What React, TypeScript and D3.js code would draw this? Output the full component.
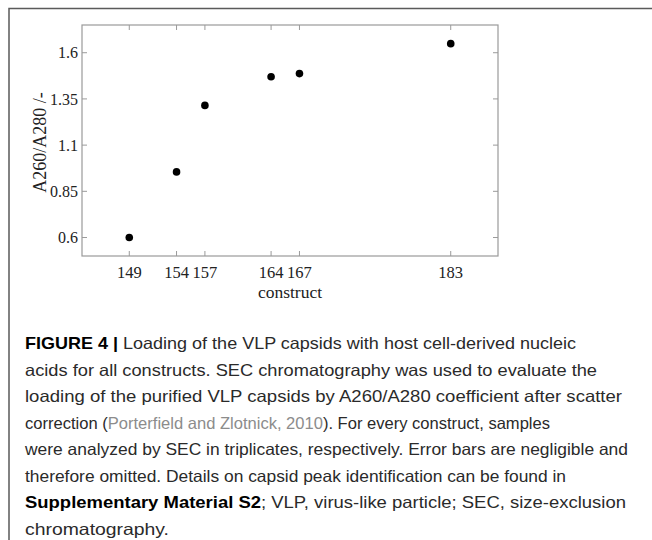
import React, { useEffect, useRef } from 'react';
import * as d3 from 'd3';

// construct number vs A260/A280 ratio
const constructs = [149, 154, 157, 164, 167, 183];
const ratios = [0.6, 0.955, 1.315, 1.47, 1.487, 1.649];
const yTicks = [0.6, 0.85, 1.1, 1.35, 1.6];

const captionLines = [
  [{ t: 'FIGURE 4 | ', b: true }, { t: 'Loading of the VLP capsids with host cell-derived nucleic' }],
  [{ t: 'acids for all constructs. SEC chromatography was used to evaluate the' }],
  [{ t: 'loading of the purified VLP capsids by A260/A280 coefficient after scatter' }],
  [{ t: 'correction (' }, { t: 'Porterfield and Zlotnick, 2010', g: true }, { t: '). For every construct, samples' }],
  [{ t: 'were analyzed by SEC in triplicates, respectively. Error bars are negligible and' }],
  [{ t: 'therefore omitted. Details on capsid peak identification can be found in' }],
  [{ t: 'Supplementary Material S2', b: true }, { t: '; VLP, virus-like particle; SEC, size-exclusion' }],
  [{ t: 'chromatography.' }],
];
const captionEnds = [576, 597, 622, 550, 628, 566, 626, 169];

export default function App() {
  const ref = useRef<SVGSVGElement>(null);

  useEffect(() => {
    if (!ref.current) return;
    const W = 652, H = 540;
    const margin = { left: 82, right: 154, top: 25, bottom: 284 };
    const svg = d3.select(ref.current);
    svg.selectAll('*').remove();

    // outer frame
    svg.append('path')
      .attr('d', `M9,${H} V8.5 H${W}`)
      .attr('fill', 'none')
      .attr('stroke', '#5a5a5a')
      .attr('stroke-width', 1.5);

    const x = d3.scaleLinear().domain([144, 188]).range([margin.left, W - margin.right]);
    const y = d3.scaleLinear().domain([0.5, 1.75]).range([H - margin.bottom, margin.top]);
    const axisColor = '#9a9a9a';
    const serif = '"Liberation Serif", "Times New Roman", serif';
    const tick = 5;

    const g = svg.append('g');

    // ticks (inward, mirrored on all sides)
    constructs.forEach(c => {
      g.append('line').attr('x1', x(c)).attr('x2', x(c))
        .attr('y1', y.range()[0]).attr('y2', y.range()[0] - tick)
        .attr('stroke', axisColor);
      g.append('line').attr('x1', x(c)).attr('x2', x(c))
        .attr('y1', y.range()[1]).attr('y2', y.range()[1] + tick)
        .attr('stroke', axisColor);
      g.append('text')
        .attr('x', x(c)).attr('y', y.range()[0] + 22)
        .attr('text-anchor', 'middle')
        .attr('font-family', serif).attr('font-size', 16.5)
        .attr('fill', '#222')
        .text(c);
    });
    yTicks.forEach(v => {
      g.append('line').attr('x1', x.range()[0]).attr('x2', x.range()[0] + tick)
        .attr('y1', y(v)).attr('y2', y(v)).attr('stroke', axisColor);
      g.append('line').attr('x1', x.range()[1]).attr('x2', x.range()[1] - tick)
        .attr('y1', y(v)).attr('y2', y(v)).attr('stroke', axisColor);
      g.append('text')
        .attr('x', x.range()[0] - 4).attr('y', y(v)).attr('dy', '0.35em')
        .attr('text-anchor', 'end')
        .attr('font-family', serif).attr('font-size', 16)
        .attr('fill', '#222')
        .text(String(v));
    });

    g.append('rect')
      .attr('x', x.range()[0]).attr('y', y.range()[1])
      .attr('width', x.range()[1] - x.range()[0])
      .attr('height', y.range()[0] - y.range()[1])
      .attr('fill', 'none').attr('stroke', axisColor).attr('stroke-width', 1.2);

    g.selectAll('circle')
      .data(constructs.map((c, i) => ({ c, r: ratios[i] })))
      .enter()
      .append('circle')
      .attr('cx', d => x(d.c))
      .attr('cy', d => y(d.r))
      .attr('r', 3.8)
      .attr('fill', '#000');

    g.append('text')
      .attr('x', (x.range()[0] + x.range()[1]) / 2).attr('y', y.range()[0] + 42)
      .attr('text-anchor', 'middle')
      .attr('font-family', serif).attr('font-size', 17.5)
      .attr('fill', '#222')
      .text('construct');

    // y label: baseline on the right, glyphs extend left
    g.append('text')
      .attr('transform', `translate(${46},${(y.range()[0] + y.range()[1]) / 2 + 2}) rotate(-90)`)
      .attr('text-anchor', 'middle')
      .attr('font-family', serif).attr('font-size', 18)
      .attr('fill', '#222')
      .text('A260/A280 /-');

    // caption
    const cap = svg.append('g')
      .attr('font-family', '"Liberation Sans", Arial, sans-serif')
      .attr('font-size', 16.5);
    captionLines.forEach((line, i) => {
      const t = cap.append('text')
        .attr('x', 25).attr('y', 349 + i * 26.5)
        .attr('textLength', captionEnds[i] - 25)
        .attr('lengthAdjust', 'spacingAndGlyphs')
        .attr('fill', '#2a2a2a');
      line.forEach((s: any) => {
        t.append('tspan')
          .attr('font-weight', s.b ? 'bold' : 'normal')
          .attr('fill', s.g ? '#8c8c8c' : (s.b ? '#000' : '#2a2a2a'))
          .text(s.t);
      });
    });
  }, []);

  return (
    <svg ref={ref} width={652} height={540}
      style={{ position: 'fixed', left: 0, top: 0, background: '#fff' }} />
  );
}
